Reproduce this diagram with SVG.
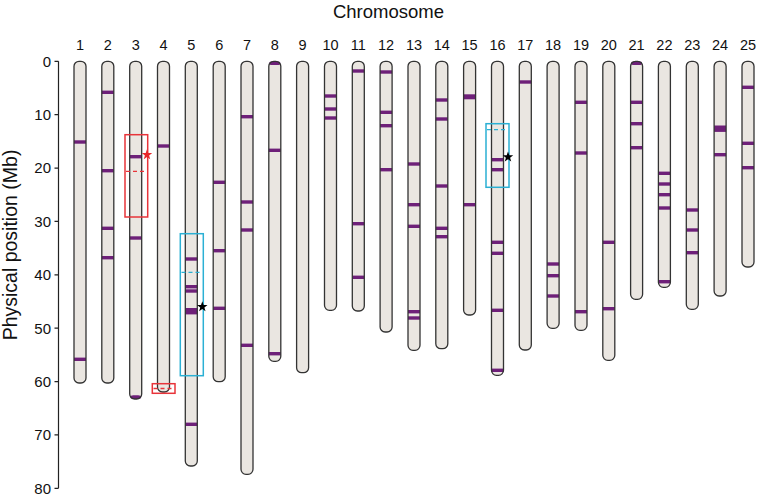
<svg xmlns="http://www.w3.org/2000/svg" xmlns:xlink="http://www.w3.org/1999/xlink" width="760" height="497" viewBox="0 0 760 497">
<style>
text{font-family:"Liberation Sans",Arial,sans-serif;fill:#111}
.num{font-size:14.5px;text-anchor:middle}
.tick{font-size:15px;text-anchor:end}
.title{font-size:18.5px;text-anchor:middle}
.ax{stroke:#222;stroke-width:1.2;fill:none}
.cf{fill:#EAE6E1;stroke:none}
.co{fill:none;stroke:#333;stroke-width:1.3}
.b{fill:#6E2079}
.red{fill:none;stroke:#E8343A;stroke-width:1.5}
.cyan{fill:none;stroke:#2BB0D4;stroke-width:1.5}
.rd{stroke:#E8343A;stroke-width:1.3;stroke-dasharray:4 3}
.cd{stroke:#2BB0D4;stroke-width:1.3;stroke-dasharray:4 3}
</style>
<defs>
<polygon id="star" points="0,-5.5 1.29,-1.78 5.23,-1.7 2.09,0.68 3.23,4.45 0,2.2 -3.23,4.45 -2.09,0.68 -5.23,-1.7 -1.29,-1.78"/>
</defs>
<rect width="760" height="497" fill="#fff"/>
<text class="title" x="388.5" y="17.5">Chromosome</text>
<g id="axis">
<path class="ax" d="M58.5 61.3V488.3M54.5 61.3H58.5M54.5 114.7H58.5M54.5 168.1H58.5M54.5 221.4H58.5M54.5 274.8H58.5M54.5 328.2H58.5M54.5 381.6H58.5M54.5 434.9H58.5M54.5 488.3H58.5"/>
<text class="tick" x="51" y="66.6">0</text>
<text class="tick" x="51" y="120">10</text>
<text class="tick" x="51" y="173.4">20</text>
<text class="tick" x="51" y="226.7">30</text>
<text class="tick" x="51" y="280.1">40</text>
<text class="tick" x="51" y="333.5">50</text>
<text class="tick" x="51" y="386.9">60</text>
<text class="tick" x="51" y="440.2">70</text>
<text class="tick" x="51" y="493.6">80</text>
<text transform="translate(16.5 245) rotate(-90)" style="font-size:19.5px;text-anchor:middle">Physical position (Mb)</text>
</g>
<g id="labels">
<text class="num" x="80" y="49.5">1</text><text class="num" x="107.8" y="49.5">2</text><text class="num" x="135.7" y="49.5">3</text><text class="num" x="163.5" y="49.5">4</text><text class="num" x="191.3" y="49.5">5</text><text class="num" x="219.2" y="49.5">6</text><text class="num" x="247" y="49.5">7</text><text class="num" x="274.8" y="49.5">8</text><text class="num" x="302.6" y="49.5">9</text><text class="num" x="330.5" y="49.5">10</text><text class="num" x="358.3" y="49.5">11</text><text class="num" x="386.1" y="49.5">12</text><text class="num" x="414" y="49.5">13</text><text class="num" x="441.8" y="49.5">14</text><text class="num" x="469.6" y="49.5">15</text><text class="num" x="497.5" y="49.5">16</text><text class="num" x="525.3" y="49.5">17</text><text class="num" x="553.1" y="49.5">18</text><text class="num" x="581" y="49.5">19</text><text class="num" x="608.8" y="49.5">20</text><text class="num" x="636.6" y="49.5">21</text><text class="num" x="664.4" y="49.5">22</text><text class="num" x="692.3" y="49.5">23</text><text class="num" x="720.1" y="49.5">24</text><text class="num" x="748" y="49.5">25</text>
</g>
<g id="chr1"><rect class="cf" x="74" y="61.3" width="12" height="321.7" rx="5"/><rect class="b" x="74" y="140.3" width="12" height="3.4"/><rect class="b" x="74" y="357.6" width="12" height="3.4"/><rect class="co" x="74" y="61.3" width="12" height="321.7" rx="5"/></g>
<g id="chr2"><rect class="cf" x="101.8" y="61.3" width="12" height="321.7" rx="5"/><rect class="b" x="101.8" y="90.6" width="12" height="3.4"/><rect class="b" x="101.8" y="169" width="12" height="3.4"/><rect class="b" x="101.8" y="226.6" width="12" height="3.4"/><rect class="b" x="101.8" y="256" width="12" height="3.4"/><rect class="co" x="101.8" y="61.3" width="12" height="321.7" rx="5"/></g>
<g id="chr3"><rect class="cf" x="129.7" y="61.3" width="12" height="337.7" rx="5"/><rect class="b" x="129.7" y="155" width="12" height="3.4"/><rect class="b" x="129.7" y="236.3" width="12" height="3.4"/><rect class="b" x="130.2" y="395.2" width="11" height="3.8" rx="3"/><rect class="co" x="129.7" y="61.3" width="12" height="337.7" rx="5"/></g>
<g id="chr4"><rect class="cf" x="157.5" y="61.3" width="12" height="330.7" rx="5"/><rect class="b" x="157.5" y="144.3" width="12" height="3.4"/><rect class="co" x="157.5" y="61.3" width="12" height="330.7" rx="5"/></g>
<g id="chr5"><rect class="cf" x="185.3" y="61.3" width="12" height="404.7" rx="5"/><rect class="b" x="185.3" y="257.3" width="12" height="3.4"/><rect class="b" x="185.3" y="285" width="12" height="3.4"/><rect class="b" x="185.3" y="289.3" width="12" height="3.4"/><rect class="b" x="185.3" y="308" width="12" height="6.4"/><rect class="b" x="185.3" y="422.6" width="12" height="3.4"/><rect class="co" x="185.3" y="61.3" width="12" height="404.7" rx="5"/></g>
<g id="chr6"><rect class="cf" x="213.2" y="61.3" width="12" height="320.4" rx="5"/><rect class="b" x="213.2" y="180.6" width="12" height="3.4"/><rect class="b" x="213.2" y="249" width="12" height="3.4"/><rect class="b" x="213.2" y="306.6" width="12" height="3.4"/><rect class="co" x="213.2" y="61.3" width="12" height="320.4" rx="5"/></g>
<g id="chr7"><rect class="cf" x="241" y="61.3" width="12" height="413" rx="5"/><rect class="b" x="241" y="115" width="12" height="3.4"/><rect class="b" x="241" y="200.3" width="12" height="3.4"/><rect class="b" x="241" y="228.3" width="12" height="3.4"/><rect class="b" x="241" y="343.6" width="12" height="3.4"/><rect class="co" x="241" y="61.3" width="12" height="413" rx="5"/></g>
<g id="chr8"><rect class="cf" x="268.8" y="61.3" width="12" height="300" rx="5"/><rect class="b" x="269.3" y="61.3" width="11" height="3.8" rx="3"/><rect class="b" x="268.8" y="148.6" width="12" height="3.4"/><rect class="b" x="268.8" y="352" width="12" height="3.4"/><rect class="co" x="268.8" y="61.3" width="12" height="300" rx="5"/></g>
<g id="chr9"><rect class="cf" x="296.6" y="61.3" width="12" height="311.4" rx="5"/><rect class="co" x="296.6" y="61.3" width="12" height="311.4" rx="5"/></g>
<g id="chr10"><rect class="cf" x="324.5" y="61.3" width="12" height="249" rx="5"/><rect class="b" x="324.5" y="94.3" width="12" height="3.4"/><rect class="b" x="324.5" y="107.3" width="12" height="3.4"/><rect class="b" x="324.5" y="116.3" width="12" height="3.4"/><rect class="co" x="324.5" y="61.3" width="12" height="249" rx="5"/></g>
<g id="chr11"><rect class="cf" x="352.3" y="61.3" width="12" height="249.7" rx="5"/><rect class="b" x="352.3" y="69.3" width="12" height="3.4"/><rect class="b" x="352.3" y="222" width="12" height="3.4"/><rect class="b" x="352.3" y="275.6" width="12" height="3.4"/><rect class="co" x="352.3" y="61.3" width="12" height="249.7" rx="5"/></g>
<g id="chr12"><rect class="cf" x="380.1" y="61.3" width="12" height="270.7" rx="5"/><rect class="b" x="380.1" y="70.3" width="12" height="3.4"/><rect class="b" x="380.1" y="110.6" width="12" height="3.4"/><rect class="b" x="380.1" y="124" width="12" height="3.4"/><rect class="b" x="380.1" y="168" width="12" height="3.4"/><rect class="co" x="380.1" y="61.3" width="12" height="270.7" rx="5"/></g>
<g id="chr13"><rect class="cf" x="408" y="61.3" width="12" height="289" rx="5"/><rect class="b" x="408" y="162.3" width="12" height="3.4"/><rect class="b" x="408" y="203" width="12" height="3.4"/><rect class="b" x="408" y="224.6" width="12" height="3.4"/><rect class="b" x="408" y="310" width="12" height="3.4"/><rect class="b" x="408" y="316.3" width="12" height="3.4"/><rect class="co" x="408" y="61.3" width="12" height="289" rx="5"/></g>
<g id="chr14"><rect class="cf" x="435.8" y="61.3" width="12" height="287.4" rx="5"/><rect class="b" x="435.8" y="98.3" width="12" height="3.4"/><rect class="b" x="435.8" y="117.3" width="12" height="3.4"/><rect class="b" x="435.8" y="184.3" width="12" height="3.4"/><rect class="b" x="435.8" y="226.6" width="12" height="3.4"/><rect class="b" x="435.8" y="235" width="12" height="3.4"/><rect class="co" x="435.8" y="61.3" width="12" height="287.4" rx="5"/></g>
<g id="chr15"><rect class="cf" x="463.6" y="61.3" width="12" height="253.7" rx="5"/><rect class="b" x="463.6" y="94.3" width="12" height="5"/><rect class="b" x="463.6" y="203" width="12" height="3.4"/><rect class="co" x="463.6" y="61.3" width="12" height="253.7" rx="5"/></g>
<g id="chr16"><rect class="cf" x="491.5" y="61.3" width="12" height="314" rx="5"/><rect class="b" x="491.5" y="158" width="12" height="3.4"/><rect class="b" x="491.5" y="168" width="12" height="3.4"/><rect class="b" x="491.5" y="240.6" width="12" height="3.4"/><rect class="b" x="491.5" y="251.6" width="12" height="3.4"/><rect class="b" x="491.5" y="308.6" width="12" height="3.4"/><rect class="b" x="491.5" y="368.6" width="12" height="3.4"/><rect class="co" x="491.5" y="61.3" width="12" height="314" rx="5"/></g>
<g id="chr17"><rect class="cf" x="519.3" y="61.3" width="12" height="288.7" rx="5"/><rect class="b" x="519.3" y="80.3" width="12" height="3.4"/><rect class="co" x="519.3" y="61.3" width="12" height="288.7" rx="5"/></g>
<g id="chr18"><rect class="cf" x="547.1" y="61.3" width="12" height="267" rx="5"/><rect class="b" x="547.1" y="262.3" width="12" height="3.4"/><rect class="b" x="547.1" y="274" width="12" height="3.4"/><rect class="b" x="547.1" y="294.3" width="12" height="3.4"/><rect class="co" x="547.1" y="61.3" width="12" height="267" rx="5"/></g>
<g id="chr19"><rect class="cf" x="575" y="61.3" width="12" height="269" rx="5"/><rect class="b" x="575" y="100.6" width="12" height="3.4"/><rect class="b" x="575" y="151.3" width="12" height="3.4"/><rect class="b" x="575" y="310" width="12" height="3.4"/><rect class="co" x="575" y="61.3" width="12" height="269" rx="5"/></g>
<g id="chr20"><rect class="cf" x="602.8" y="61.3" width="12" height="299" rx="5"/><rect class="b" x="602.8" y="240.6" width="12" height="3.4"/><rect class="b" x="602.8" y="307" width="12" height="3.4"/><rect class="co" x="602.8" y="61.3" width="12" height="299" rx="5"/></g>
<g id="chr21"><rect class="cf" x="630.6" y="61.3" width="12" height="238" rx="5"/><rect class="b" x="631.1" y="61.3" width="11" height="3.8" rx="3"/><rect class="b" x="630.6" y="100.6" width="12" height="3.4"/><rect class="b" x="630.6" y="122" width="12" height="3.4"/><rect class="b" x="630.6" y="146" width="12" height="3.4"/><rect class="co" x="630.6" y="61.3" width="12" height="238" rx="5"/></g>
<g id="chr22"><rect class="cf" x="658.4" y="61.3" width="12" height="226" rx="5"/><rect class="b" x="658.4" y="171.6" width="12" height="3.4"/><rect class="b" x="658.4" y="182.3" width="12" height="3.4"/><rect class="b" x="658.4" y="193" width="12" height="3.4"/><rect class="b" x="658.4" y="206.3" width="12" height="3.4"/><rect class="b" x="658.4" y="280" width="12" height="3.4"/><rect class="co" x="658.4" y="61.3" width="12" height="226" rx="5"/></g>
<g id="chr23"><rect class="cf" x="686.3" y="61.3" width="12" height="248" rx="5"/><rect class="b" x="686.3" y="208.3" width="12" height="3.4"/><rect class="b" x="686.3" y="228.3" width="12" height="3.4"/><rect class="b" x="686.3" y="251" width="12" height="3.4"/><rect class="co" x="686.3" y="61.3" width="12" height="248" rx="5"/></g>
<g id="chr24"><rect class="cf" x="714.1" y="61.3" width="12" height="234.7" rx="5"/><rect class="b" x="714.1" y="125.5" width="12" height="6.4"/><rect class="b" x="714.1" y="153" width="12" height="3.4"/><rect class="co" x="714.1" y="61.3" width="12" height="234.7" rx="5"/></g>
<g id="chr25"><rect class="cf" x="742" y="61.3" width="12" height="205.7" rx="5"/><rect class="b" x="742" y="85.6" width="12" height="3.4"/><rect class="b" x="742" y="141.6" width="12" height="3.4"/><rect class="b" x="742" y="166" width="12" height="3.4"/><rect class="co" x="742" y="61.3" width="12" height="205.7" rx="5"/></g>
<g id="highlight-chr3"><rect class="red" x="125" y="134.7" width="22.7" height="82.3"/><line class="rd" x1="126" y1="171.3" x2="147" y2="171.3"/><use xlink:href="#star" href="#star" x="147" y="154.7" fill="#E8262A"/></g>
<g id="highlight-chr4"><rect class="red" x="152.3" y="383.7" width="22.7" height="9.6"/><line class="rd" x1="153.5" y1="388.5" x2="174" y2="388.5"/></g>
<g id="highlight-chr5"><rect class="cyan" x="180.3" y="233.7" width="23" height="142"/><line class="cd" x1="181.5" y1="272.3" x2="202.5" y2="272.3"/><use xlink:href="#star" href="#star" x="202.3" y="306.7" fill="#000"/></g>
<g id="highlight-chr16"><rect class="cyan" x="486" y="123.7" width="23" height="63.6"/><line class="cd" x1="487" y1="129.7" x2="508" y2="129.7"/><use xlink:href="#star" href="#star" x="508" y="157" fill="#000"/></g>
</svg>
